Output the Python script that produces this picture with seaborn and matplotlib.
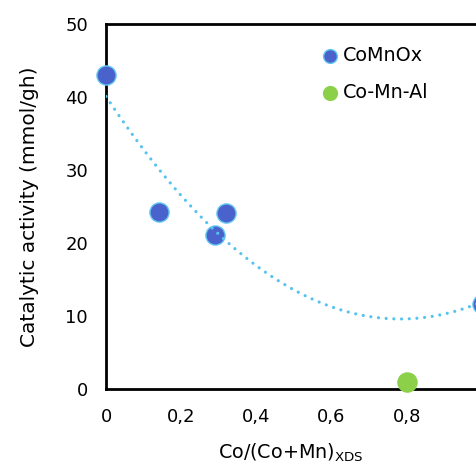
import matplotlib
matplotlib.use("Agg")
import matplotlib.pyplot as plt
from matplotlib.ticker import MultipleLocator, FixedLocator
import numpy as np
import pandas as pd
import seaborn as sns

# data
comnox_x = [0.0, 0.14, 0.29, 0.32, 1.0]
comnox_y = [43.0, 24.2, 21.1, 24.1, 11.7]
comnal_x = [0.8]
comnal_y = [1.0]
series = ["CoMnOx", "Co-Mn-Al"]
xtick_vals = [0.0, 0.2, 0.4, 0.6, 0.8, 1.0]
xtick_labels = ["0", "0,2", "0,4", "0,6", "0,8", "1"]
ytick_vals = [0, 10, 20, 30, 40, 50]

COLORS = {"CoMnOx": "#4a63cc", "Co-Mn-Al": "#8cd04a"}
EDGE = {"CoMnOx": "#62c6f2", "Co-Mn-Al": "#8cd04a"}
TREND = "#55c3f0"

df = pd.DataFrame({
    "x": comnox_x + comnal_x,
    "y": comnox_y + comnal_y,
    "series": [series[0]] * len(comnox_x) + [series[1]] * len(comnal_x),
})

sns.set_style("white")
plt.rcParams["font.family"] = ["DejaVu Sans"]
plt.rcParams["text.color"] = "black"
plt.rcParams["axes.labelcolor"] = "black"

fig = plt.figure(figsize=(4.76, 4.66), dpi=100)
ax = fig.add_axes([106 / 476, 77 / 466, 1 - 106 / 476, 365 / 466])

for name in series:
    sub = df[df["series"] == name]
    sns.scatterplot(data=sub, x="x", y="y", ax=ax, s=190, color=COLORS[name],
                    edgecolor=EDGE[name], linewidth=1.0, label=name, zorder=3,
                    clip_on=False)

# polynomial trend (2nd order) through the CoMnOx points, drawn over markers
coef = np.polyfit(comnox_x, comnox_y, 2)
xs = np.linspace(0, 1.0, 200)
ax.plot(xs, np.polyval(coef, xs), color=TREND, linestyle=(0, (0.01, 2.4)),
        dash_capstyle="round", linewidth=2.3, zorder=4)

ax.set_xlim(0, 370 / 375.8)
ax.set_ylim(0, 50)
ax.xaxis.set_major_locator(FixedLocator(xtick_vals))
ax.set_xticklabels(xtick_labels)
ax.xaxis.set_minor_locator(MultipleLocator(0.1))
ax.set_yticks(ytick_vals)
ax.yaxis.set_minor_locator(MultipleLocator(5))
ax.tick_params(which="both", direction="in", length=5, width=1.2, color="black",
               labelsize=13, labelcolor="black")
ax.tick_params(axis="x", which="major", pad=14)
ax.tick_params(axis="y", which="major", pad=13)

for side in ["left", "bottom", "top"]:
    ax.spines[side].set_color("black")
    ax.spines[side].set_linewidth(2)
ax.spines["right"].set_visible(False)

ax.set_xlabel("Co/(Co+Mn)$_{\\mathregular{XDS}}$", fontsize=13.8, labelpad=11)
ax.set_ylabel("Catalytic activity (mmol/gh)", fontsize=14.5, labelpad=19)

leg = ax.legend(loc="upper left", bbox_to_anchor=(0.564, 0.962), frameon=False,
                fontsize=13.8, handlelength=0.8, handletextpad=0.25,
                labelspacing=0.95, markerscale=0.72, borderaxespad=0.0)
for txt in leg.get_texts():
    txt.set_color("black")

fig.savefig("out.png", dpi=100)
